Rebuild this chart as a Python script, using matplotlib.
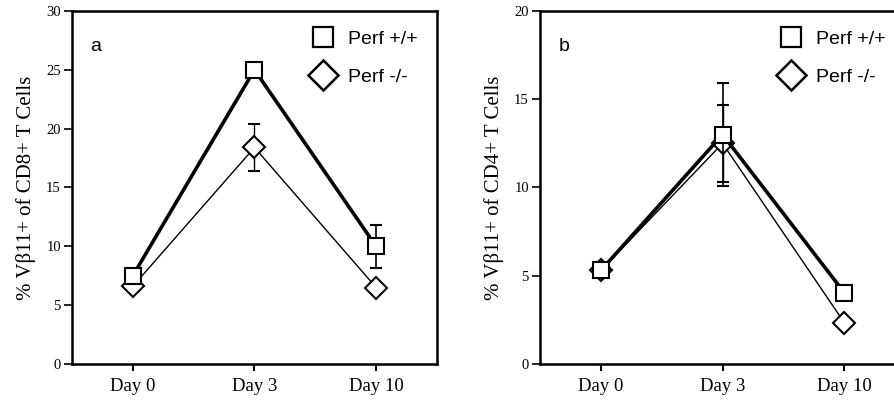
import matplotlib
matplotlib.use("Agg")
import matplotlib.pyplot as plt
from matplotlib.lines import Line2D

days = ["Day 0", "Day 3", "Day 10"]

# panel a: CD8+
a_wt = [7.5, 25.0, 10.0]
a_wt_err = [0.0, 0.0, 1.85]
a_ko = [6.6, 18.4, 6.5]
a_ko_err = [0.0, 2.0, 0.0]

# panel b: CD4+
b_wt = [5.3, 13.0, 4.05]
b_wt_err = [0.0, 2.9, 0.0]
b_ko = [5.3, 12.5, 2.35]
b_ko_err = [0.0, 2.2, 0.0]

serif = "Liberation Serif"
sans = "Liberation Sans"

fig = plt.figure(figsize=(8.95, 4.01), dpi=100)
ax_a = fig.add_axes([0.0804, 0.0923, 0.4078, 0.8803])
ax_b = fig.add_axes([0.6034, 0.0923, 0.4078, 0.8803])


def draw_panel(ax, wt, wt_err, ko, ko_err, ymax, letter, ylabel):
    x = list(range(len(days)))
    ax.errorbar(x, ko, yerr=ko_err, color="black", lw=1.0, elinewidth=1.0,
                capsize=4, capthick=1.2, marker="D", ms=11, mfc="white",
                mec="black", mew=1.5, zorder=2)
    ax.errorbar(x, wt, yerr=wt_err, color="black", lw=2.6, elinewidth=1.2,
                capsize=4, capthick=1.2, marker="s", ms=12, mfc="white",
                mec="black", mew=1.5, zorder=3)
    ax.set_xlim(-0.5, 2.5)
    ax.set_ylim(0, ymax)
    ax.set_xticks(x)
    ax.set_xticklabels(days, fontfamily=serif, fontsize=13.5)
    ax.set_yticks(range(0, ymax + 1, 5))
    ax.set_yticklabels([str(v) for v in range(0, ymax + 1, 5)],
                       fontfamily=serif, fontsize=10.5)
    ax.tick_params(axis="y", length=6, width=1.2, pad=2)
    ax.tick_params(axis="x", length=5, width=1.5, pad=5)
    for s in ax.spines.values():
        s.set_linewidth(1.8)
    ax.set_ylabel(ylabel, fontfamily=serif, fontsize=15, labelpad=7)
    ax.text(0.05, 0.90, letter, transform=ax.transAxes, fontfamily=sans,
            fontsize=14, va="center", ha="left")
    handles = [
        Line2D([], [], ls="none", marker="s", ms=14, mfc="white", mec="black",
               mew=1.6, label="Perf +/+"),
        Line2D([], [], ls="none", marker="D", ms=15, mfc="white", mec="black",
               mew=1.8, label="Perf -/-"),
    ]
    ax.legend(handles=handles, loc="upper right", frameon=False,
              prop={"family": sans, "size": 14}, handletextpad=0.7,
              labelspacing=1.05, borderpad=0.0, borderaxespad=1.0,
              handlelength=1.2)


draw_panel(ax_a, a_wt, a_wt_err, a_ko, a_ko_err, 30, "a",
           "% V\u03b211+ of CD8+ T Cells")
draw_panel(ax_b, b_wt, b_wt_err, b_ko, b_ko_err, 20, "b",
           "% V\u03b211+ of CD4+ T Cells")

fig.savefig("out.png", dpi=100)
